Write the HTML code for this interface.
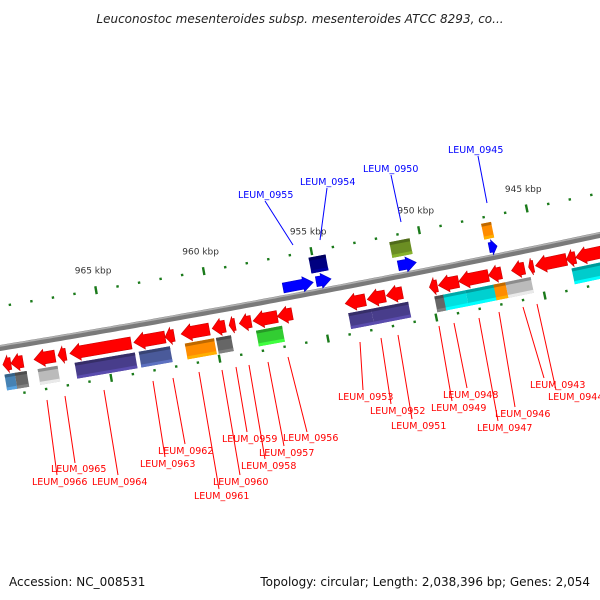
<!DOCTYPE html>
<html><head><meta charset="utf-8"><style>
body{margin:0;background:#fff;width:600px;height:600px;overflow:hidden}
svg{display:block;font-family:"DejaVu Sans","Liberation Sans",sans-serif}
</style></head><body>
<svg id="c" width="600" height="600" viewBox="0 0 600 600">
<text x="300" y="23" text-anchor="middle" font-size="12" font-style="italic" fill="#222">Leuconostoc mesenteroides subsp. mesenteroides ATCC 8293, co...</text>
<text x="9" y="586" font-size="12" fill="#111">Accession: NC_008531</text>
<text x="590" y="586" text-anchor="end" font-size="12" fill="#111">Topology: circular; Length: 2,038,396 bp; Genes: 2,054</text>
<g id="g"></g>
</svg>
<script>
// gene data (kbp coordinates)
const geneStart=[969.44,969.07,968.00,966.89,966.34,963.38,961.94,961.20,959.76,958.98,958.51,957.87,956.75,953.61,952.59,951.71,949.72,949.30,948.37,946.99,945.92,945.13,944.81,943.38,942.96];
const geneEnd  =[969.07,968.51,967.03,966.52,963.51,961.94,961.52,959.90,959.16,958.70,957.96,956.75,956.06,952.68,951.76,950.97,949.35,948.37,946.99,946.39,945.32,944.90,943.38,942.96,941.66];
const cogStart=[969.44,968.97,967.91,966.20,963.24,961.11,959.67,957.82,953.56,952.50,949.58,949.17,948.14,946.85,946.30,943.24];
const cogEnd  =[968.97,968.42,966.99,963.42,961.80,959.76,958.98,956.62,952.50,950.79,949.12,948.14,946.76,946.30,945.13,941.66];
const cogColor=["#4682b4","#666666","#bbbbbb","#483d8b","#4a5a9a","#ff8c00","#666666","#32cd32","#483d8b","#483d8b","#666666","#00e0e0","#00d0d0","#ff8c00","#bbbbbb","#00cccc"];
const fwdStart=[956.25,954.72,950.92,946.71];
const fwdEnd  =[954.86,954.03,950.08,946.34];
const fwdCogStart=[954.86,951.11,946.85];
const fwdCogEnd  =[954.07,950.17,946.39];
const fwdCogColor=["#000080","#6b8e23","#ff8c00"];
const majorTicks=[965,960,955,950,945];
const minorTicks=[969,968,967,966,964,963,962,961,959,958,957,956,954,953,952,951,949,948,947,946,944,943,942];
const labelNames=["LEUM_0965","LEUM_0966","LEUM_0964","LEUM_0963","LEUM_0962","LEUM_0961","LEUM_0960","LEUM_0959","LEUM_0958","LEUM_0957","LEUM_0956","LEUM_0953","LEUM_0952","LEUM_0951","LEUM_0949","LEUM_0948","LEUM_0947","LEUM_0946","LEUM_0944","LEUM_0943"];
const labelX=[51,32,92,140,158,194,213,222,241,259,283,338,370,391,431,443,477,495,548,530];
const labelY=[472,485,485,467,454,499,485,442,469,456,441,400,414,429,411,398,431,417,400,388];
const labelFrom=[[65,396],[47,400],[104,390],[153,381],[173,378],[199,372],[222,370],[236,367],[249,365],[268,362],[288,357],[360,342],[381,338],[398,335],[439,326],[454,323],[479,318],[499,312],[537,304],[523,307]];
const labelTo=[[75,463],[57,475],[118,475],[165,457],[185,444],[219,489],[240,475],[247,432],[265,459],[284,446],[307,432],[363,390],[391,404],[412,419],[452,401],[467,388],[498,421],[515,407],[556,390],[544,378]];
const blueNames=["LEUM_0955","LEUM_0954","LEUM_0950","LEUM_0945"];
const blueX=[238,300,363,448],blueY=[198,185,172,153];
const blueFrom=[[265,201],[327,188],[391,175],[478,156]];
const blueTo=[[293,245],[320,240],[401,222],[487,203]];

const NS="http://www.w3.org/2000/svg";
const G=document.getElementById('g');
function X(k){return 96+(965-k)*21.6;}
function cy(x){return 348-0.165*x-0.000039*x*x;}
function P(x,off){const s=-0.165-0.000078*x;const n=Math.sqrt(1+s*s);return [x+(-s)*off/n, cy(x)+off/n];}
function el(t,a){const e=document.createElementNS(NS,t);for(const k in a)e.setAttribute(k,a[k]);G.appendChild(e);return e;}
function pts(a){return a.map(p=>p[0].toFixed(1)+','+p[1].toFixed(1)).join(' ');}
function shade(c,f){const r=parseInt(c.slice(1,3),16),g=parseInt(c.slice(3,5),16),b=parseInt(c.slice(5,7),16);const m=v=>Math.max(0,Math.min(255,Math.round(v*f)));return 'rgb('+m(r)+','+m(g)+','+m(b)+')';}

// backbone
let d='';for(let x=-5;x<=605;x+=5){const p=P(x,0);d+=(x==-5?'M':'L')+p[0].toFixed(1)+' '+p[1].toFixed(1);}
let bb=el('path',{d:d,stroke:'#7a7a7a','stroke-width':6,fill:'none'});


let bh=el('path',{d:d,stroke:'#b0b0b0','stroke-width':1.5,fill:'none',transform:'translate(0,-2)'});



// ticks
function tick(k,major){
  const x=X(k)+7;
  [-41,48].forEach(off=>{
    const a=P(x,off-(major?4:1.2)),b=P(x,off+(major?4:1.2));
    const t=el('line',{x1:a[0],y1:a[1],x2:b[0],y2:b[1],stroke:'#1a7a1a','stroke-width':2.4});
    
    
  });
  if(major){const p=P(x,-58);const t=el('text',{x:p[0],y:p[1],'font-size':9,'text-anchor':'middle',fill:'#333'});t.textContent=k+' kbp';
    
    }
}
majorTicks.forEach(k=>tick(k,true));minorTicks.forEach(k=>tick(k,false));

function arrow(k1,k2,off,h,color,dir){
  let x1=X(k1),x2=X(k2);if(x1>x2){const t=x1;x1=x2;x2=t;}
  const hl=Math.min(10,(x2-x1)*0.65);
  const ins=2.5;
  let poly;
  if(dir<0){poly=[P(x1,off),P(x1+hl,off-h/2),P(x1+hl,off-h/2+ins),P(x2,off-h/2+ins),P(x2,off+h/2-ins),P(x1+hl,off+h/2-ins),P(x1+hl,off+h/2)];}
  else{poly=[P(x2,off),P(x2-hl,off-h/2),P(x2-hl,off-h/2+ins),P(x1,off-h/2+ins),P(x1,off+h/2-ins),P(x2-hl,off+h/2-ins),P(x2-hl,off+h/2)];}
  const e=el('polygon',{points:pts(poly),fill:color,stroke:shade(color,0.8),'stroke-width':0.6});
  
  
}
function box(k1,k2,off,h,color){
  let x1=X(k1),x2=X(k2);if(x1>x2){const t=x1;x1=x2;x2=t;}
  const e=el('polygon',{points:pts([P(x1,off-h/2),P(x2,off-h/2),P(x2,off+h/2),P(x1,off+h/2)]),fill:color});
  
  
  const t=el('polygon',{points:pts([P(x1,off-h/2),P(x2,off-h/2),P(x2,off-h/2+3),P(x1,off-h/2+3)]),fill:shade(color,0.75)});
  
  
  const b=el('polygon',{points:pts([P(x1,off+h/2-3),P(x2,off+h/2-3),P(x2,off+h/2),P(x1,off+h/2)]),fill:shade(color,1.25)});
  
  
}
geneStart.forEach((s,i)=>arrow(s,geneEnd[i],17,17,'#ff0000',-1));
cogStart.forEach((s,i)=>box(s,cogEnd[i],35,16,cogColor[i]));
fwdStart.forEach((s,i)=>arrow(s,fwdEnd[i],-10,15,'#0000ff',1));
fwdCogStart.forEach((s,i)=>box(s,fwdCogEnd[i],-27,16,fwdCogColor[i]));

labelNames.forEach((n,i)=>{
  const l=el('line',{x1:labelFrom[i][0],y1:labelFrom[i][1],x2:labelTo[i][0],y2:labelTo[i][1],stroke:'#ff0000','stroke-width':1});
  
  
  const t=el('text',{x:labelX[i],y:labelY[i],'font-size':9.5,fill:'#ff0000'});t.textContent=n;
  
  
});
blueNames.forEach((n,i)=>{
  const l=el('line',{x1:blueFrom[i][0],y1:blueFrom[i][1],x2:blueTo[i][0],y2:blueTo[i][1],stroke:'#0000ff','stroke-width':1});
  
  
  const t=el('text',{x:blueX[i],y:blueY[i],'font-size':9.5,fill:'#0000ff'});t.textContent=n;
  
  
});
</script>
</body></html>
